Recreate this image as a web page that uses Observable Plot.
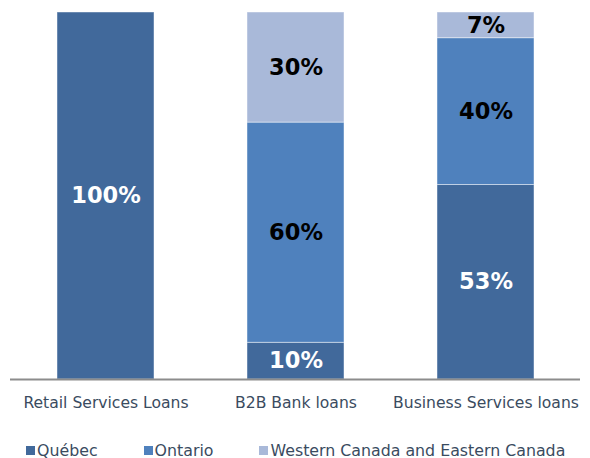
<!DOCTYPE html>
<html><head><meta charset="utf-8">
<script src="https://cdn.jsdelivr.net/npm/d3@7"></script>
<script src="https://cdn.jsdelivr.net/npm/@observablehq/plot@0.6"></script>
<style>
body{margin:0;background:#fff;font-family:"DejaVu Sans",Verdana,sans-serif;}
#legend{display:flex;align-items:center;height:40px;padding-left:26px;font-size:15.8px;color:#3a4b60;white-space:nowrap;}
.item{display:flex;align-items:center;margin-right:46px;flex-shrink:0;}
.sw{width:9px;height:9px;margin-right:2px;}
</style></head><body>
<div id="chart"></div><div id="legend"></div>
<script>
const categories = ["Retail Services Loans","B2B Bank loans","Business Services loans"];
const regions = ["Québec","Ontario","Western Canada and Eastern Canada"];
const colors = ["#41699B","#4F81BD","#A9B9D9"];
const quebec = [100,10,53];
const ontario = [0,60,40];
const western = [0,30,7];

const data = [];
[quebec, ontario, western].forEach((vals, r) => vals.forEach((v, i) => {
  if (v > 0) data.push({category: categories[i], region: regions[r], value: v});
}));

const plot = Plot.plot({
  width: 590, height: 430,
  marginTop: 12, marginBottom: 51, marginLeft: 10, marginRight: 10,
  style: {fontFamily: "'DejaVu Sans', Verdana, sans-serif", fontSize: "15.6px", color: "#3a4b60", background: "white"},
  x: {domain: categories, paddingInner: 0.49, paddingOuter: 0.245, label: null, tickSize: 0, tickPadding: 17},
  y: {domain: [0, 100], axis: null},
  color: {domain: regions, range: colors},
  marks: [
    Plot.barY(data, {x: "category", y: "value", fill: "region", z: "region", stroke: "white", strokeOpacity: 0.45, strokeWidth: 1}),
    Plot.text(data, Plot.stackY({x: "category", y: "value", z: "region",
      text: d => d.region === regions[0] ? d.value + "%" : null,
      fill: "white", fontSize: 22.5, fontWeight: "bold"})),
    Plot.text(data, Plot.stackY({x: "category", y: "value", z: "region",
      text: d => d.region !== regions[0] ? d.value + "%" : null,
      fill: "black", fontSize: 22.5, fontWeight: "bold"})),
    Plot.ruleY([0], {stroke: "#8c8c8c", strokeWidth: 2})
  ]
});
document.getElementById("chart").appendChild(plot);

const legend = document.getElementById("legend");
regions.forEach((r, i) => {
  const item = document.createElement("div");
  item.className = "item";
  const sw = document.createElement("span");
  sw.className = "sw";
  sw.style.background = colors[i];
  const t = document.createElement("span");
  t.textContent = r;
  item.appendChild(sw); item.appendChild(t);
  legend.appendChild(item);
});
</script>
</body></html>
